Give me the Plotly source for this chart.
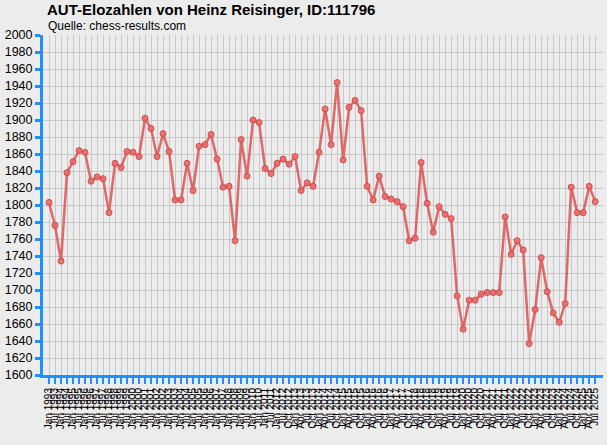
import plotly.graph_objects as go

# Rating list dates (category labels)
semi = []
for yr in range(1993, 2013):
    semi += [f"Jan {yr}", f"Jul {yr}"]
quarters = ["Oct 2012"]
for yr in range(2013, 2026):
    for m in ["Jan", "Apr", "Jul", "Oct"]:
        if yr == 2025 and m == "Oct":
            break
        quarters.append(f"{m} {yr}")
dates = semi + quarters

elo = [1803, 1776, 1734, 1838, 1851, 1864, 1862, 1828, 1833, 1831,
       1791, 1849, 1844, 1863, 1862, 1857, 1902, 1890, 1857, 1884,
       1863, 1806, 1806, 1849, 1817, 1869, 1871, 1883, 1854, 1821,
       1822, 1758, 1877, 1834, 1900, 1897, 1843, 1837, 1849, 1854,
       1848, 1857, 1817, 1826, 1822, 1862, 1913, 1871, 1944, 1853,
       1915, 1923, 1911, 1822, 1806, 1834, 1810, 1807, 1804, 1798,
       1758, 1761, 1850, 1802, 1768, 1798, 1789, 1784, 1693, 1654,
       1688, 1688, 1695, 1697, 1697, 1697, 1786, 1742, 1758, 1747,
       1637, 1677, 1738, 1698, 1673, 1662, 1684, 1821, 1791, 1791,
       1822, 1804]

n = min(len(dates), len(elo))
dates = dates[:n]
elo = elo[:n]
idx = list(range(n))

yticks = list(range(1600, 2001, 20))

BLUE = "#1e90ff"
BG = "#ececec"

fig = go.Figure()
fig.add_trace(go.Scatter(
    x=idx, y=elo, mode="lines+markers",
    line=dict(color="rgba(222,90,90,0.9)", width=2.5),
    marker=dict(size=6, color="rgba(230,110,110,0.9)",
                line=dict(color="#d44a4a", width=1)),
    hoverinfo="skip", showlegend=False,
))

fig.update_layout(
    width=607, height=445,
    margin=dict(l=43, r=4, t=35, b=70, autoexpand=False),
    paper_bgcolor=BG, plot_bgcolor=BG,
    font=dict(family="Liberation Sans, Arial, sans-serif", color="black"),
    annotations=[
        dict(text="<b>AUT-Elozahlen von Heinz Reisinger, ID:111796</b>",
             xref="paper", yref="paper", x=0.004, y=1.075,
             xanchor="left", yanchor="middle", showarrow=False,
             font=dict(size=15, color="black")),
        dict(text="Quelle: chess-results.com",
             xref="paper", yref="paper", x=0.005, y=1.026,
             xanchor="left", yanchor="middle", showarrow=False,
             font=dict(size=12, color="black")),
    ],
)

fig.update_xaxes(
    range=[-1, 92.3], tickmode="array", tickvals=idx, ticktext=dates,
    tickangle=-90, tickfont=dict(size=10, color="black"),
    showgrid=True, gridcolor="#c8c8c8", gridwidth=1.2,
    ticks="outside", ticklen=6, tickwidth=2, tickcolor=BLUE,
    showline=True, linecolor=BLUE, linewidth=3,
    zeroline=False, automargin=False,
)
fig.update_yaxes(
    range=[1600, 2000], tickmode="array", tickvals=yticks,
    ticktext=[str(v) for v in yticks],
    tickfont=dict(size=12.5, color="black"),
    showgrid=True, gridcolor="#c8c8c8", gridwidth=1.2,
    ticks="outside", ticklen=5, tickwidth=2.5, tickcolor=BLUE,
    showline=True, linecolor=BLUE, linewidth=3,
    zeroline=False, automargin=False,
)

fig.write_html(
    "out.html",
    config={"displayModeBar": False},
    post_script="document.body.style.margin='0px';"
                "document.body.style.background='#ececec';",
)
